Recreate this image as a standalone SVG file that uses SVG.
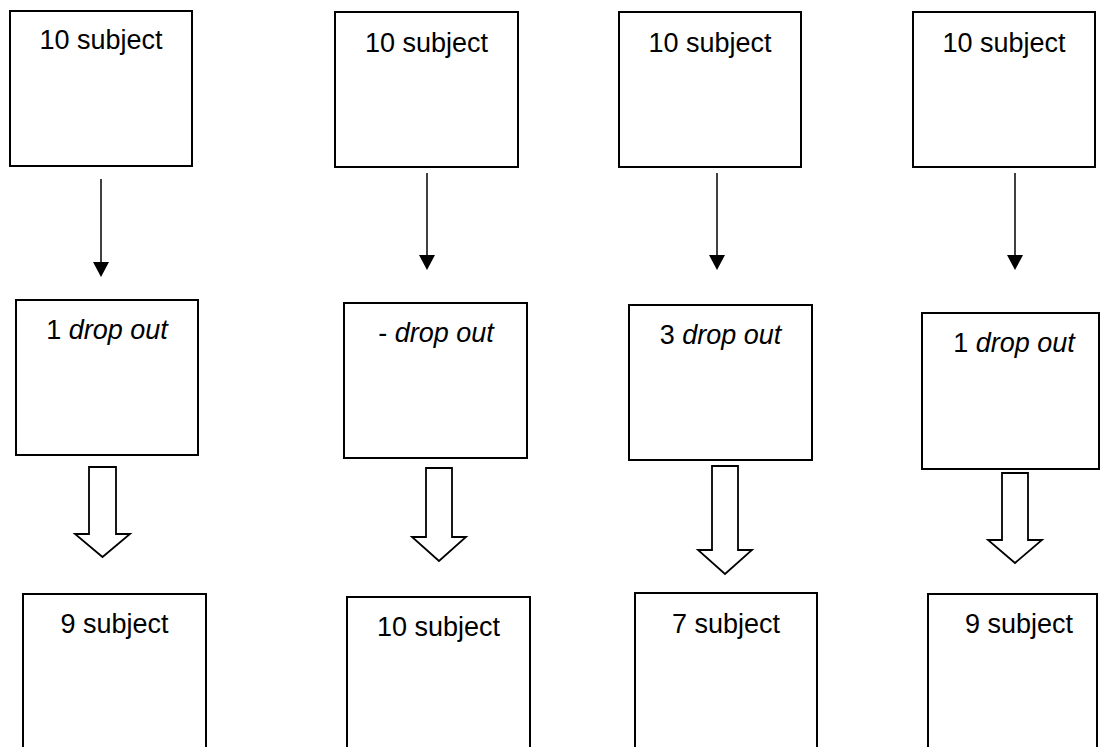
<svg xmlns="http://www.w3.org/2000/svg" width="1101" height="747" viewBox="0 0 1101 747">
<style>
.box{fill:#fff;stroke:#000;stroke-width:2}
.t{font-family:"Liberation Sans",Arial,sans-serif;font-size:27px;fill:#000;text-anchor:middle}
.i{font-style:italic}
.ln{stroke:#000;stroke-width:1.5;fill:none}
.blk{fill:#fff;stroke:#000;stroke-width:1.8;stroke-linejoin:miter}
</style>
<rect width="1101" height="747" fill="#fff"/>
<g id="connectors">
<line class="ln" x1="101" y1="179" x2="101" y2="262"/><path d="M93,262 L109,262 L101,277 Z" fill="#000"/>
<line class="ln" x1="427" y1="173" x2="427" y2="255"/><path d="M419,255 L435,255 L427,270 Z" fill="#000"/>
<line class="ln" x1="717" y1="173" x2="717" y2="255"/><path d="M709,255 L725,255 L717,270 Z" fill="#000"/>
<line class="ln" x1="1015" y1="173" x2="1015" y2="255"/><path d="M1007,255 L1023,255 L1015,270 Z" fill="#000"/>
<path class="blk" d="M89,467 L116,467 L116,534 L130,534 L102.5,557 L75,534 L89,534 Z"/>
<path class="blk" d="M426,468 L452,468 L452,537 L466,537 L439,561 L412,537 L426,537 Z"/>
<path class="blk" d="M712,466 L738,466 L738,550 L752,550 L725,574 L698,550 L712,550 Z"/>
<path class="blk" d="M1002,473 L1028,473 L1028,540 L1042,540 L1015,563 L988,540 L1002,540 Z"/>
</g>
<g id="top1"><rect class="box" x="10" y="11" width="182" height="155"/><text class="t" x="101" y="49">10 subject</text></g>
<g id="top2"><rect class="box" x="335" y="12" width="183" height="155"/><text class="t" x="426.5" y="52">10 subject</text></g>
<g id="top3"><rect class="box" x="619" y="12" width="182" height="155"/><text class="t" x="710" y="52">10 subject</text></g>
<g id="top4"><rect class="box" x="913" y="12" width="182" height="155"/><text class="t" x="1004" y="52">10 subject</text></g>
<g id="mid1"><rect class="box" x="16" y="300" width="182" height="155"/><text class="t" x="107" y="339">1 <tspan class="i">drop out</tspan></text></g>
<g id="mid2"><rect class="box" x="344" y="303" width="183" height="155"/><text class="t" x="436" y="342">- <tspan class="i">drop out</tspan></text></g>
<g id="mid3"><rect class="box" x="629" y="305" width="183" height="155"/><text class="t" x="720.5" y="344">3 <tspan class="i">drop out</tspan></text></g>
<g id="mid4"><rect class="box" x="922" y="313" width="177" height="156"/><text class="t" x="1014" y="352">1 <tspan class="i">drop out</tspan></text></g>
<g id="bot1"><rect class="box" x="23" y="594" width="183" height="170"/><text class="t" x="114.5" y="633">9 subject</text></g>
<g id="bot2"><rect class="box" x="347" y="597" width="183" height="170"/><text class="t" x="438.5" y="636">10 subject</text></g>
<g id="bot3"><rect class="box" x="635" y="593" width="182" height="170"/><text class="t" x="726" y="633">7 subject</text></g>
<g id="bot4"><rect class="box" x="928" y="594" width="169" height="170"/><text class="t" x="1019" y="633">9 subject</text></g>
</svg>
